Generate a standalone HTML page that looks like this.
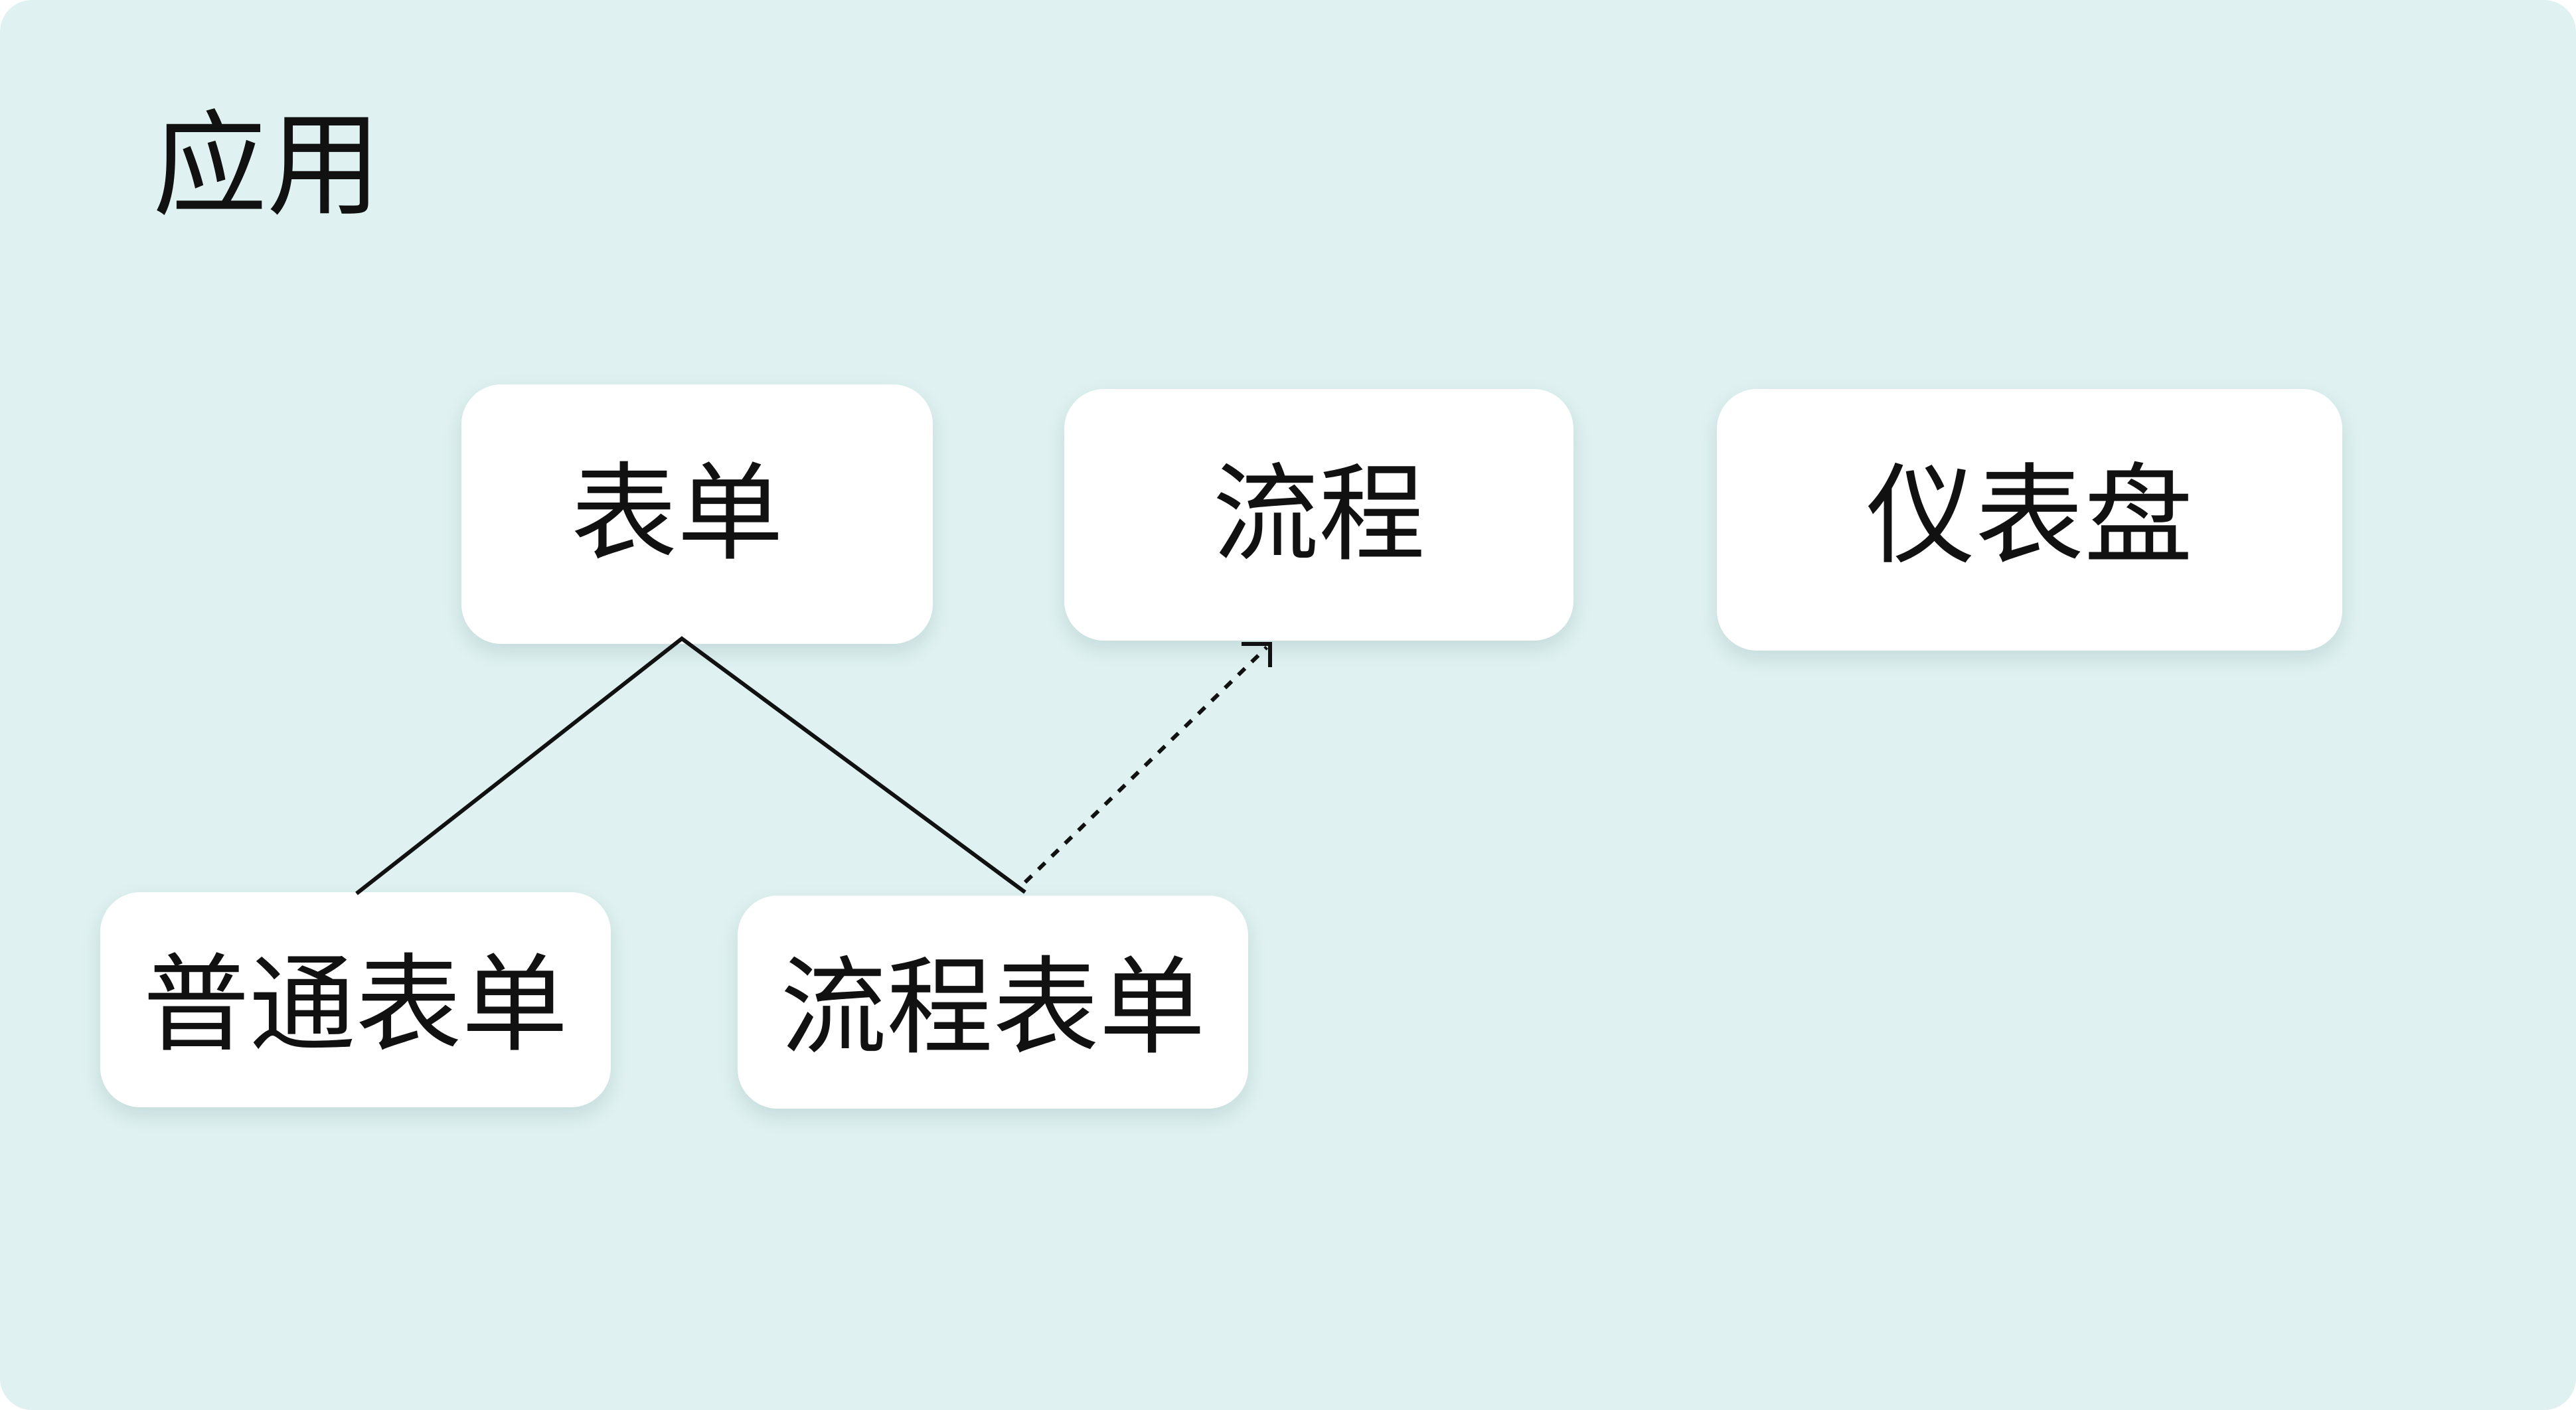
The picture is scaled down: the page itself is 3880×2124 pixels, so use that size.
<!DOCTYPE html>
<html><head><meta charset="utf-8"><style>
html,body{margin:0;padding:0;background:#fff;}
#root{position:relative;width:3880px;height:2124px;background:#dff1f1;border-radius:48px;overflow:hidden;font-family:"Liberation Sans","Noto Sans CJK SC",sans-serif;color:#111;}
.t{position:absolute;left:230px;top:150px;font-size:172px;line-height:200px;}
.b{position:absolute;background:#fff;border-radius:60px;box-shadow:0 12px 30px rgba(0,60,60,0.12);display:flex;align-items:center;justify-content:center;font-size:160px;box-sizing:border-box;padding-bottom:30px;}
svg{position:absolute;left:0;top:0;}
</style></head><body><div id="root">
<div class="t">应用</div>
<div class="b" style="left:695px;top:579px;width:710px;height:391px;padding-right:60px;">表单</div>
<div class="b" style="left:1603px;top:586px;width:767px;height:379px;">流程</div>
<div class="b" style="left:2586px;top:586px;width:942px;height:394px;padding-bottom:40px;font-size:164px;">仪表盘</div>
<div class="b" style="left:151px;top:1344px;width:769px;height:324px;padding-bottom:12px;">普通表单</div>
<div class="b" style="left:1111px;top:1349px;width:769px;height:321px;padding-bottom:12px;">流程表单</div>
<svg width="3880" height="2124">
<polyline points="537,1346 1027,962 1544,1344" fill="none" stroke="#111" stroke-width="6"/>
<line x1="1544" y1="1329" x2="1908" y2="975" stroke="#111" stroke-width="6" stroke-dasharray="14,14"/>
<polyline points="1870,970 1913,970 1913,1005" fill="none" stroke="#111" stroke-width="6"/>
</svg>
</div></body></html>
